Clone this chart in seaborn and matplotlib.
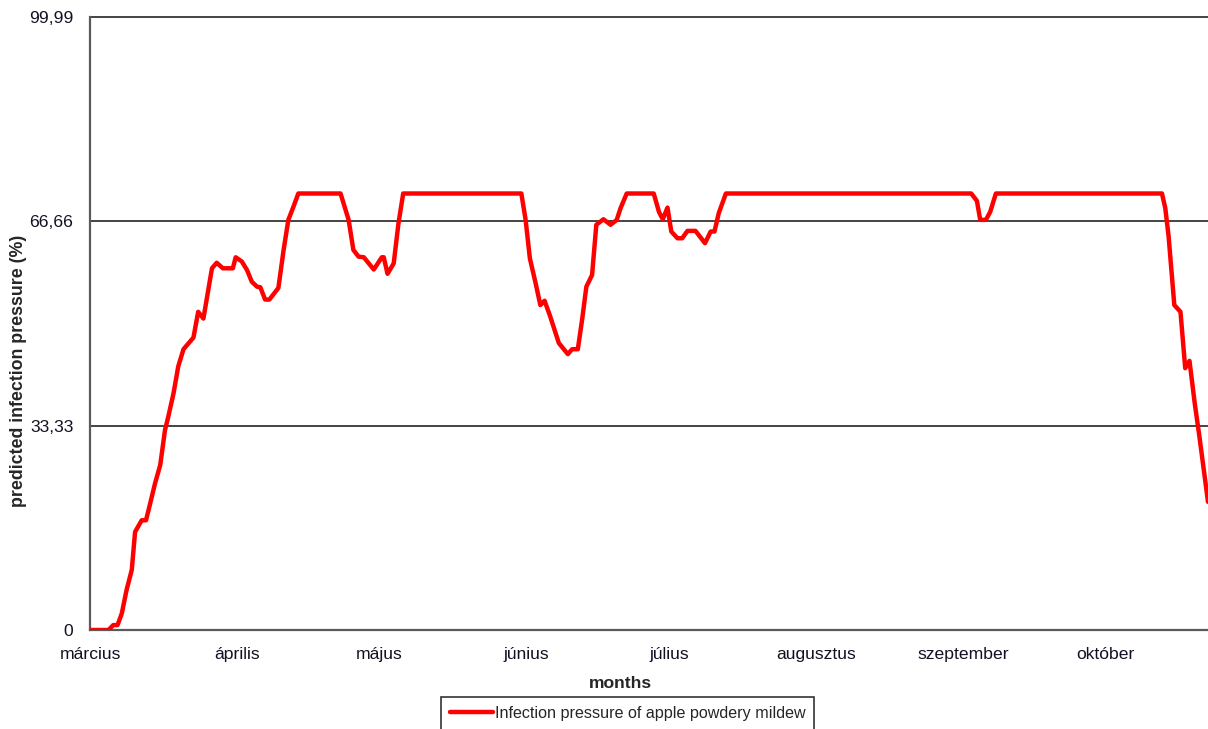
import numpy as np
import pandas as pd
import matplotlib
matplotlib.use('Agg')
import matplotlib.pyplot as plt
import seaborn as sns

# Napok március 1-től számolva, leolvasott töréspontok
day = [0, 3.9, 4.9, 5.8, 6.7, 7.7, 8.8, 9.5, 10.9, 11.8,
       12.7, 13.7, 14.8, 15.8, 16.5, 17.6, 18.6, 19.7, 21.8, 22.8,
       23.9, 25.7, 26.7, 28.0, 30.1, 30.7, 32.0, 33.1, 34.1, 35.2,
       35.9, 36.9, 37.8, 39.7, 40.8, 41.8, 42.9, 43.9,
       52.8, 54.5, 55.5, 56.6, 57.7, 59.8, 61.5, 61.9, 62.7, 64.0, 65.0, 66.0,
       90.9, 91.8, 92.7, 93.9, 94.9, 95.8, 97.0, 98.8, 100.7, 101.6,
       102.8, 103.7, 104.6, 105.8, 106.7, 108.2, 109.7, 111.0, 111.8, 113.1,
       118.8, 119.9, 120.7, 121.7, 122.5, 123.8, 124.8, 125.9, 127.6, 129.6,
       130.8, 131.6, 132.5, 134.0,
       185.7, 186.9, 187.6, 188.8, 189.7, 190.9,
       225.9, 226.6, 227.3, 228.5, 229.8, 230.8, 231.7, 232.8, 233.8, 235.6]
pressure = [0, 0, 0.8, 0.8, 2.7, 6.5, 9.8, 16.0, 17.9, 17.9,
            20.7, 23.9, 26.9, 32.6, 34.8, 38.6, 43.0, 45.8, 47.7, 51.9,
            50.8, 59.0, 59.9, 59.0, 59.0, 60.8, 60.1, 58.7, 56.8, 56.0,
            55.9, 53.9, 53.9, 55.8, 62.0, 66.9, 69.1, 71.2,
            71.2, 66.9, 62.0, 60.9, 60.8, 58.8, 60.8, 60.8, 58.1, 59.8, 66.3, 71.2,
            71.2, 66.9, 60.6, 56.6, 53.0, 53.7, 51.1, 46.8, 45.0, 45.8,
            45.8, 50.6, 56.0, 57.9, 66.1, 67.0, 66.1, 66.9, 68.8, 71.2,
            71.2, 68.2, 67.0, 68.9, 65.0, 63.9, 63.9, 65.1, 65.1, 63.1,
            65.0, 65.0, 68.0, 71.2,
            71.2, 70.0, 66.9, 66.9, 68.2, 71.2,
            71.2, 68.8, 64.2, 53.0, 51.9, 42.7, 43.9, 37.0, 31.5, 20.9]

month_names = ['március', 'április', 'május', 'június', 'július',
               'augusztus', 'szeptember', 'október']
month_start = [0, 31, 61, 92, 122, 153, 184, 214]
y_ticks = [0, 33.33, 66.66, 99.99]
y_tick_labels = ['0', '33,33', '66,66', '99,99']

sns.set_style('white')
plt.rcParams['font.family'] = ['Liberation Sans', 'DejaVu Sans']

df = pd.DataFrame({'day': day, 'pressure': pressure})

W, H = 1208, 729
fig = plt.figure(figsize=(W / 100, H / 100), dpi=100)
ax = fig.add_axes([90 / W, 1 - 630 / H, 1118 / W, 613 / H])

sns.lineplot(data=df, x='day', y='pressure', ax=ax, color='#ff0000',
             linewidth=3.2, label='Infection pressure of apple powdery mildew',
             legend=False, zorder=3)

ax.set_xlim(0, day[-1])
ax.set_ylim(0, 99.99)
ax.set_xticks(month_start)
ax.set_xticklabels(month_names)
ax.set_yticks(y_ticks)
ax.set_yticklabels(y_tick_labels)

ax.yaxis.grid(True, color='#111111', linewidth=1.1)
ax.xaxis.grid(False)
for g in ax.get_ygridlines():
    g.set_clip_on(False)

for s in ['top', 'right']:
    ax.spines[s].set_visible(False)
for s in ['left', 'bottom']:
    ax.spines[s].set_color('#5a5a5a')
    ax.spines[s].set_linewidth(1.6)

ax.tick_params(axis='both', direction='out', length=5, width=1.2,
               color='#5a5a5a', labelsize=12.6, labelcolor='#111122')
ax.tick_params(axis='x', pad=7.5)
ax.tick_params(axis='y', pad=7)

ax.set_xlabel('months', fontsize=12.6, fontweight='bold')
ax.set_ylabel('predicted infection pressure (%)', fontsize=12.8, fontweight='bold')
ax.xaxis.set_label_coords((620 - 90) / 1118, -(676 - 630) / 613)
ax.yaxis.set_label_coords((27 - 90) / 1118, (630 - 371) / 613)

handles, labels = ax.get_legend_handles_labels()
leg = fig.legend(handles, labels, loc='upper left',
                 bbox_to_anchor=(441 / W, 1 - 697 / H), frameon=True,
                 fancybox=False, edgecolor='black', fontsize=11.6,
                 handlelength=2.7, handletextpad=0.1, borderpad=0.55,
                 borderaxespad=0)
leg.get_frame().set_linewidth(1.2)

fig.savefig('out.png', dpi=100)
